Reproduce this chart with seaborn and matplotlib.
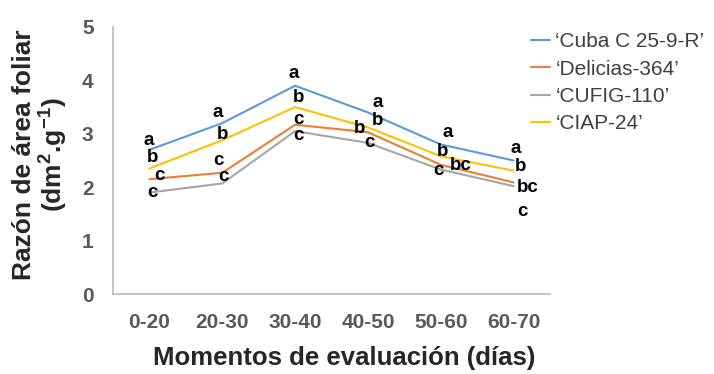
import matplotlib
matplotlib.use("Agg")
import matplotlib.pyplot as plt
import pandas as pd
import seaborn as sns

# datos
momentos = ["0-20", "20-30", "30-40", "40-50", "50-60", "60-70"]
variedades = ["\u2018Cuba C 25-9-R\u2019", "\u2018Delicias-364\u2019", "\u2018CUFIG-110\u2019", "\u2018CIAP-24\u2019"]
cuba = [2.70, 3.20, 3.90, 3.40, 2.80, 2.50]
delicias = [2.15, 2.27, 3.17, 3.03, 2.42, 2.09]
cufig = [1.90, 2.07, 3.05, 2.83, 2.33, 2.02]
ciap = [2.35, 2.88, 3.50, 3.12, 2.58, 2.31]

letras_cuba = ["a", "a", "a", "a", "a", "a"]
letras_delicias = ["c", "c", "c", "b", "bc", "bc"]
letras_cufig = ["c", "c", "c", "c", "c", "c"]
letras_ciap = ["b", "b", "b", "b", "b", "b"]

colores = ["#5b9bd5", "#ed7d31", "#a5a5a5", "#ffc000"]

# desplazamiento de cada letra respecto a su punto (pixeles)
desp_cuba = [(-1, 9), (-5, 11), (-1, 12), (10, 10), (7, 12), (2, 12)]
desp_delicias = [(10, 4), (-4, 12), (3, 5), (-8, 4), (20, -1), (14, -5)]
desp_cufig = [(3, 0), (1, 7), (3, -4), (2, 0), (-2, -1), (9, -25)]
desp_ciap = [(3, 11), (0, 6), (3, 10), (10, 7), (2, 5), (7, 4)]

series = [cuba, delicias, cufig, ciap]
letras = [letras_cuba, letras_delicias, letras_cufig, letras_ciap]
desps = [desp_cuba, desp_delicias, desp_cufig, desp_ciap]

df = pd.concat(
    [pd.DataFrame({"momento": momentos, "valor": vals, "variedad": var}) for var, vals in zip(variedades, series)],
    ignore_index=True,
)

sns.set_style("white")
plt.rcParams["font.family"] = ["Liberation Sans", "DejaVu Sans"]
plt.rcParams["mathtext.fontset"] = "custom"
plt.rcParams["mathtext.rm"] = "Liberation Sans"
plt.rcParams["mathtext.bf"] = "Liberation Sans:bold"

fig = plt.figure(figsize=(7.14, 3.74), dpi=100, facecolor="white")
ax = fig.add_axes([113 / 714, 1 - 294 / 374, (550 - 113) / 714, (294 - 27) / 374])

sns.lineplot(
    data=df, x="momento", y="valor", hue="variedad",
    hue_order=variedades, palette=colores, lw=1.5, sort=False, ax=ax,
)

for vals, labs, offs in zip(series, letras, desps):
    for i, (v, lab, (dx, dy)) in enumerate(zip(vals, labs, offs)):
        ax.annotate(lab, (i, v), xytext=(dx, dy), textcoords="offset pixels",
                    ha="center", va="center", fontsize=13.5, fontweight="bold", color="black")

ax.set_xlim(-0.5, 5.5)
ax.set_ylim(0, 5)
ax.set_yticks([0, 1, 2, 3, 4, 5])

for s in ["top", "right"]:
    ax.spines[s].set_visible(False)
for s in ["left", "bottom"]:
    ax.spines[s].set_color("#bfbfbf")
    ax.spines[s].set_linewidth(1.3)

ax.tick_params(axis="both", length=0, labelsize=15, labelcolor="#595959", pad=14)
for lab in ax.get_xticklabels() + ax.get_yticklabels():
    lab.set_fontweight("bold")

ax.set_xlabel("Momentos de evaluación (días)", fontsize=18.5, fontweight="bold")
ax.xaxis.set_label_coords(0.53, -0.195)
ax.set_ylabel("Razón de área foliar\n(dm$^{\\mathbf{2}}$.g$^{\\mathbf{-1}}$)",
              fontsize=19, fontweight="bold", linespacing=1.0)
ax.yaxis.set_label_coords(-0.10, 0.52)

h, l = ax.get_legend_handles_labels()
ax.legend(h, l, loc="upper left", bbox_to_anchor=(521 / 714, 1 - 22 / 374),
          bbox_transform=fig.transFigure, frameon=False, fontsize=15,
          handlelength=0.9, handletextpad=0.25, labelspacing=0.4, borderpad=0,
          labelcolor="#404040")

fig.savefig("out.png", dpi=100)
